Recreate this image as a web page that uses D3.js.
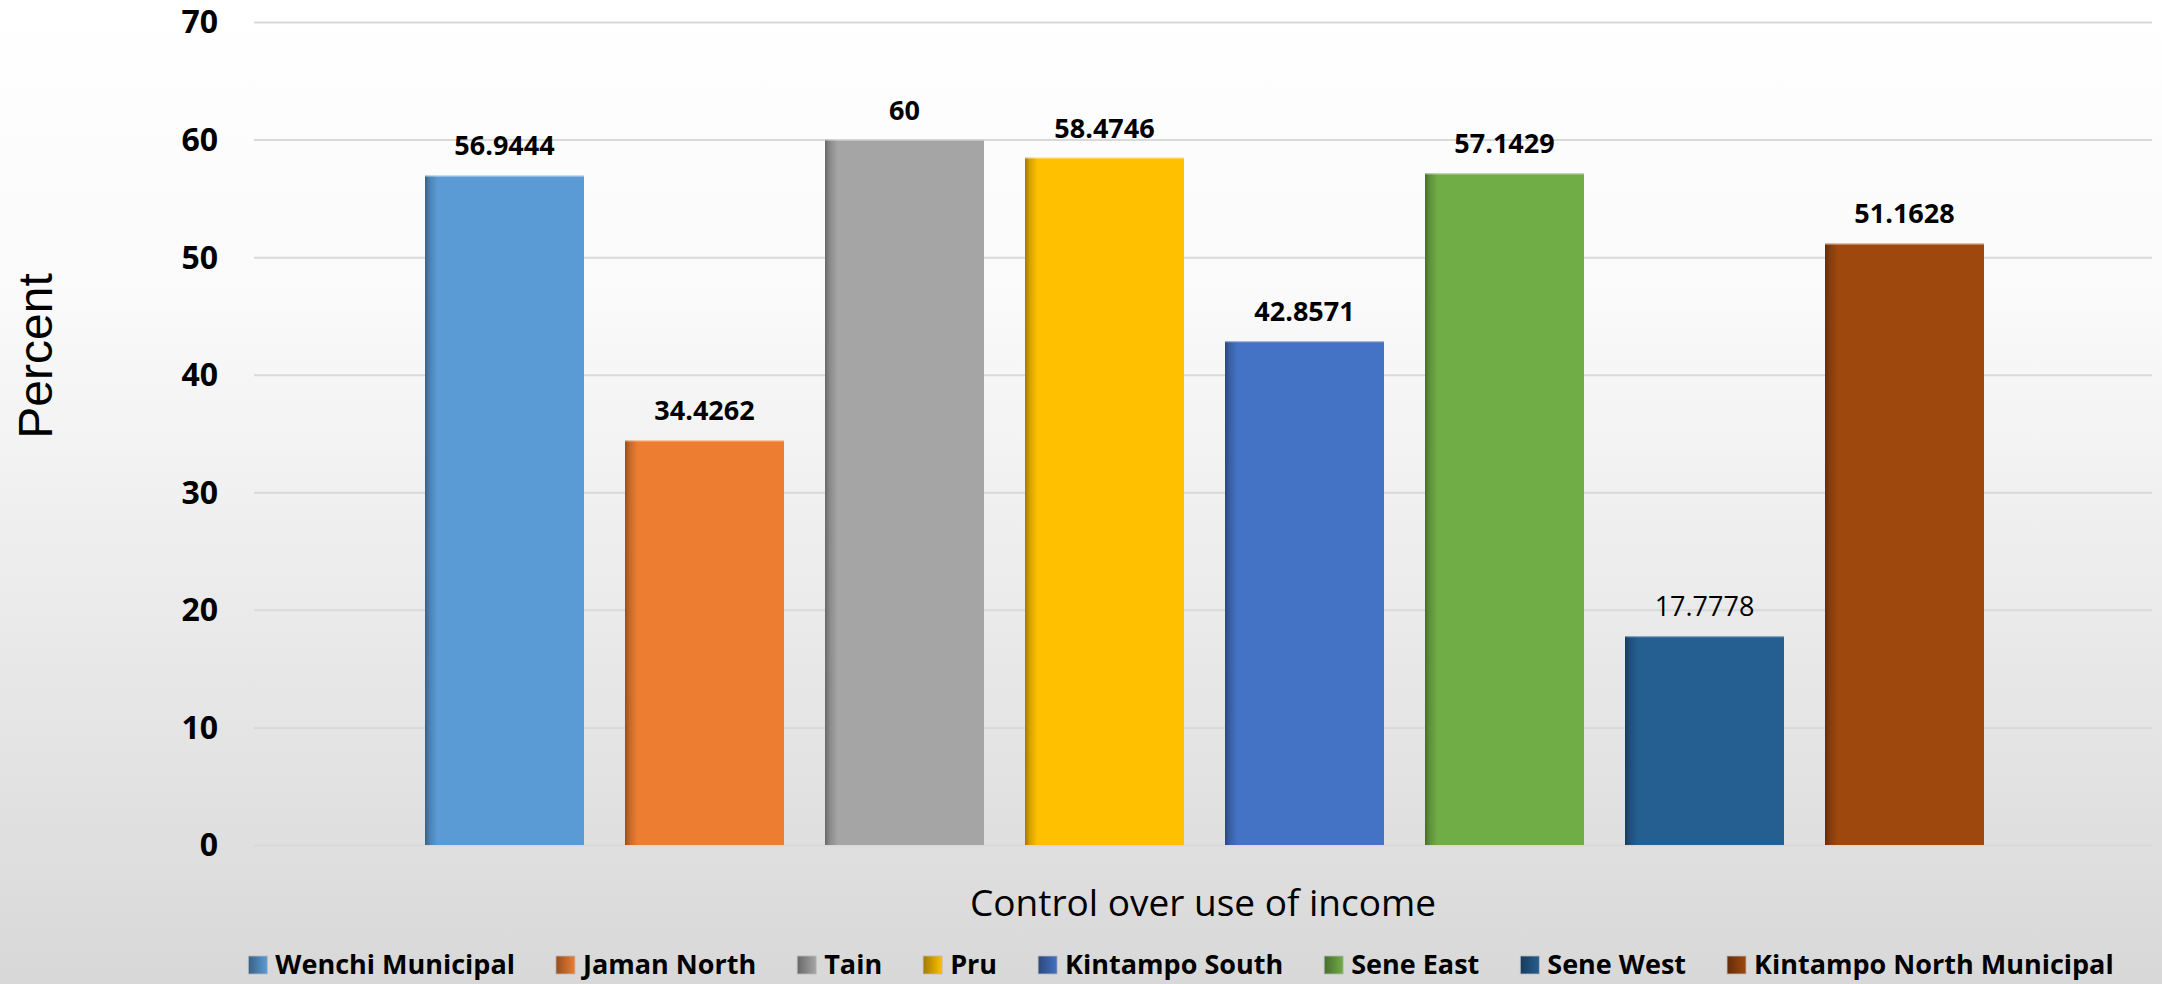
<!DOCTYPE html>
<html>
<head>
<meta charset="utf-8">
<script src="https://cdnjs.cloudflare.com/ajax/libs/d3/7.8.5/d3.min.js"></script>
<style>
  html, body { margin: 0; padding: 0; background: #fff; }
  svg { display: block; }
</style>
</head>
<body>
<svg id="chart" width="2162" height="984"></svg>
<script>
// ---- Data ----
const districts = ["Wenchi Municipal", "Jaman North", "Tain", "Pru", "Kintampo South", "Sene East", "Sene West", "Kintampo North Municipal"];
const percentValues = [56.9444, 34.4262, 60, 58.4746, 42.8571, 57.1429, 17.7778, 51.1628];
const labelTexts = ["56.9444", "34.4262", "60", "58.4746", "42.8571", "57.1429", "17.7778", "51.1628"];
const labelBold = [true, true, true, true, true, true, false, true];
const seriesColors = ["#5B9BD5", "#ED7D31", "#A5A5A5", "#FFC000", "#4472C4", "#70AD47", "#255E91", "#9E480E"];
const yTicks = [0, 10, 20, 30, 40, 50, 60, 70];
const categoryTitle = "Control over use of income";
const yTitle = "Percent";

// ---- Layout ----
const W = 2162, H = 984;
const plot = { left: 254, right: 2152, top: 22, bottom: 845 };
const svg = d3.select("#chart");
const defs = svg.append("defs");

// background gradient
const bg = defs.append("linearGradient").attr("id", "bgGrad").attr("x1", 0).attr("y1", 0).attr("x2", 0).attr("y2", 1);
bg.append("stop").attr("offset", "0%").attr("stop-color", "#ffffff");
bg.append("stop").attr("offset", "30%").attr("stop-color", "#fafafa");
bg.append("stop").attr("offset", "100%").attr("stop-color", "#d8d8d8");
svg.append("rect").attr("width", W).attr("height", H).attr("fill", "url(#bgGrad)");

// bar gradients (dark left edge)
seriesColors.forEach((c, i) => {
  const dark = d3.color(c).darker(1.3).formatHex();
  const mid = d3.color(c).darker(0.5).formatHex();
  const g = defs.append("linearGradient").attr("id", "barGrad" + i).attr("x1", 0).attr("y1", 0).attr("x2", 1).attr("y2", 0);
  g.append("stop").attr("offset", "0%").attr("stop-color", dark);
  g.append("stop").attr("offset", "3%").attr("stop-color", mid);
  g.append("stop").attr("offset", "8%").attr("stop-color", c);
  g.append("stop").attr("offset", "100%").attr("stop-color", c);
  const lg = defs.append("linearGradient").attr("id", "legGrad" + i).attr("x1", 0).attr("y1", 0).attr("x2", 1).attr("y2", 0);
  lg.append("stop").attr("offset", "0%").attr("stop-color", dark);
  lg.append("stop").attr("offset", "100%").attr("stop-color", c);
});

// ---- Scales ----
const y = d3.scaleLinear().domain([0, 70]).range([plot.bottom, plot.top]);
const x = d3.scaleBand().domain(districts).range([425, 1984]).paddingInner(0.205).paddingOuter(0);

// gridlines
const yAxis = d3.axisLeft(y).tickValues(yTicks).tickSize(-(plot.right - plot.left)).tickPadding(36).tickFormat(d3.format("d"));
const gAxis = svg.append("g").attr("transform", `translate(${plot.left},0)`).call(yAxis);
gAxis.select(".domain").remove();
gAxis.selectAll(".tick line").attr("stroke", "#d9d9d9").attr("stroke-width", 2);
gAxis.selectAll(".tick text")
  .attr("font-family", "'Open Sans', sans-serif")
  .attr("font-weight", "bold")
  .attr("font-size", 32)
  .attr("fill", "#000")
  .attr("dy", "0.34em");

// bars
const bars = svg.append("g");
bars.selectAll("rect.bar").data(districts).enter().append("rect")
  .attr("class", "bar")
  .attr("x", d => x(d))
  .attr("width", x.bandwidth())
  .attr("y", (d, i) => y(percentValues[i]))
  .attr("height", (d, i) => y(0) - y(percentValues[i]))
  .attr("fill", (d, i) => `url(#barGrad${i})`);
bars.selectAll("line.top").data(districts).enter().append("line")
  .attr("x1", d => x(d)).attr("x2", d => x(d) + x.bandwidth())
  .attr("y1", (d, i) => y(percentValues[i]) + 0.5).attr("y2", (d, i) => y(percentValues[i]) + 0.5)
  .attr("stroke", "#ffffff").attr("stroke-opacity", 0.45).attr("stroke-width", 1.5);

// data labels
svg.append("g").selectAll("text").data(districts).enter().append("text")
  .attr("x", d => x(d) + x.bandwidth() / 2)
  .attr("y", (d, i) => y(percentValues[i]) - 20)
  .attr("text-anchor", "middle")
  .attr("font-family", "'Open Sans', sans-serif")
  .attr("font-weight", (d, i) => labelBold[i] ? "bold" : "normal")
  .attr("font-size", 27)
  .attr("fill", "#000")
  .text((d, i) => labelTexts[i]);

// axis titles
svg.append("text")
  .attr("x", (plot.left + plot.right) / 2)
  .attr("y", 916)
  .attr("text-anchor", "middle")
  .attr("font-family", "'Open Sans', sans-serif")
  .attr("font-size", 37)
  .attr("fill", "#000")
  .text(categoryTitle);

svg.append("text")
  .attr("transform", "translate(52,356) rotate(-90)")
  .attr("text-anchor", "middle")
  .attr("font-family", "'Liberation Sans', Arial, sans-serif")
  .attr("font-size", 48)
  .attr("fill", "#000")
  .text(yTitle);

// legend
const legend = svg.append("g");
const items = legend.selectAll("g").data(districts).enter().append("g");
items.append("rect")
  .attr("width", 19).attr("height", 18)
  .attr("y", 956)
  .attr("fill", (d, i) => `url(#legGrad${i})`)
  .attr("stroke", "#bbbbbb").attr("stroke-width", 0.8);
items.append("text")
  .attr("x", 27)
  .attr("y", 974)
  .attr("font-family", "'Open Sans', sans-serif")
  .attr("font-weight", "bold")
  .attr("font-size", 27)
  .attr("fill", "#000")
  .text(d => d);
const widths = [];
items.each(function () { widths.push(d3.select(this).select("text").node().getComputedTextLength()); });
const gap = 41;
const total = widths.reduce((a, w) => a + 27 + w, 0) + gap * (widths.length - 1);
let cx = 1181 - total / 2;
items.each(function (d, i) {
  d3.select(this).attr("transform", `translate(${cx},0)`);
  cx += 27 + widths[i] + gap;
});
</script>
</body>
</html>
